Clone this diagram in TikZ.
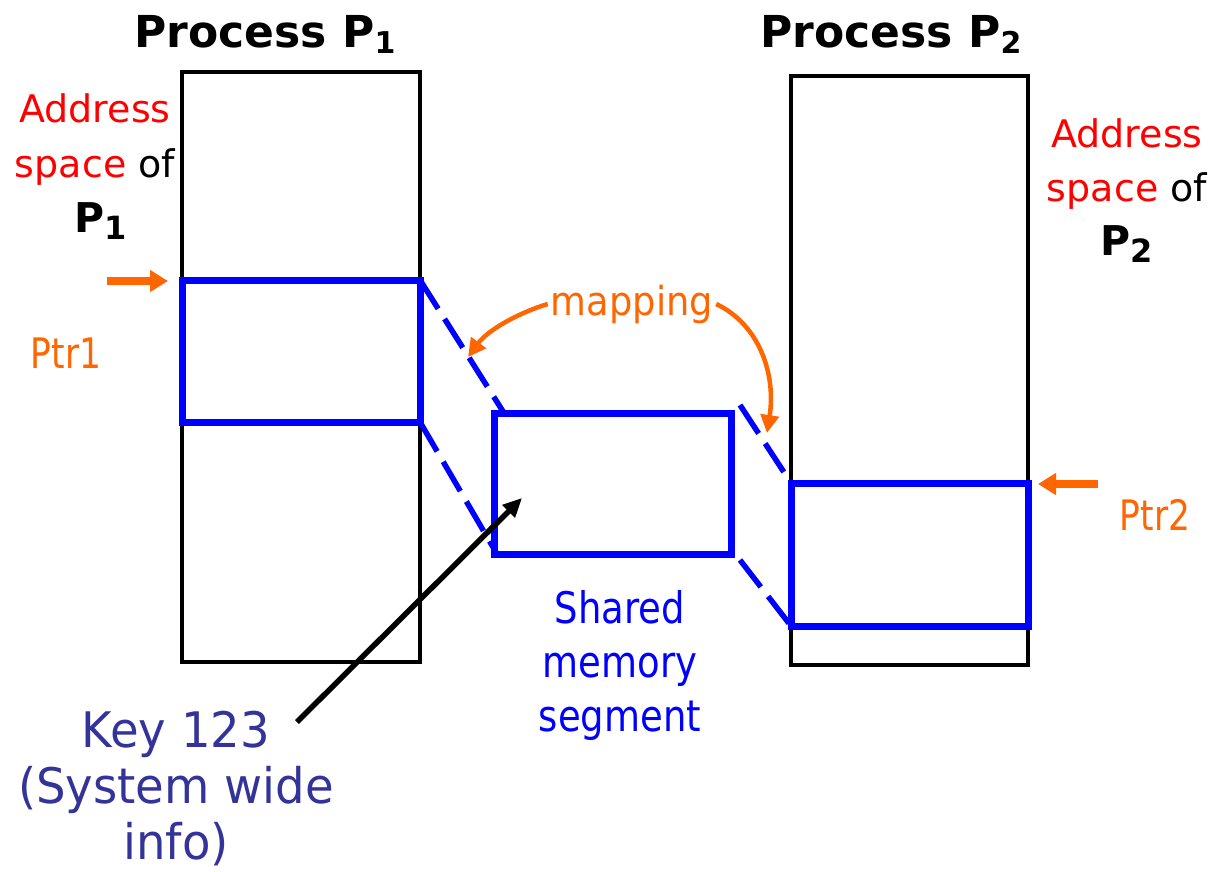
\documentclass[tikz,border=0pt]{standalone}
\usepackage{fontspec}
\setmainfont{DejaVu Sans}
\newfontfamily\fShared{DejaVu Sans}[FakeStretch=0.85]
\newfontfamily\fPtr{DejaVu Sans}[FakeStretch=0.82]
\newfontfamily\fMap{DejaVu Sans}[FakeStretch=0.92]
\newfontfamily\fKey{DejaVu Sans}[FakeStretch=0.95]
\usetikzlibrary{arrows.meta,calc}
\definecolor{orng}{RGB}{255,102,0}
\definecolor{keyblue}{RGB}{51,51,153}
\definecolor{pblue}{RGB}{0,0,255}
\newcommand{\subdig}[3]{\raisebox{-#2pt}{\fontsize{#1}{#1}\selectfont #3}}
\begin{document}
\begin{tikzpicture}[x=1pt,y=-1pt,
  procbox/.style={draw=black,line width=3.5pt,inner sep=0pt,outer sep=0pt},
  segbox/.style={draw=pblue,line width=7pt,inner sep=0pt,outer sep=0pt},
  maplink/.style={draw=pblue,line width=5.5pt,dash pattern=on 34pt off 12pt},
  ptrarrow/.style={draw=orng,line width=8pt,-{Triangle[length=18pt,width=21pt]}},
  maparrow/.style={draw=orng,line width=4.5pt,-{Triangle[length=18pt,width=18pt]}},
  keyarrow/.style={draw=black,line width=5.5pt,-{Triangle[length=19pt,width=17pt]}},
  lbl/.style={inner sep=0pt,outer sep=0pt}]
\useasboundingbox (0,0) rectangle (1213,871);

% process address spaces
\node[procbox,minimum width=238pt,minimum height=590pt] (p1) at (301,367) {};
\node[procbox,minimum width=237pt,minimum height=589pt] (p2) at (909.5,370.5) {};

% shared regions
\node[segbox,minimum width=238pt,minimum height=142pt] (p1b) at (301,351) {};
\node[segbox,minimum width=237pt,minimum height=141pt] (sh) at (612.5,483.5) {};
\node[segbox,minimum width=237pt,minimum height=143pt] (p2b) at (909.5,554.5) {};

% dashed mapping lines
\draw[maplink] (p1b.north east) -- ($(sh.north west)+(10,0)$);
\draw[maplink] (p1b.south east) -- ($(sh.south west)+(3,0)$);
\draw[maplink] ($(sh.north east)+(9,-8)$) -- (p2b.north west);
\draw[maplink] ($(sh.south east)+(9,6)$) -- (p2b.south west);

% titles
\node[lbl,font=\fontsize{44}{44}\selectfont\bfseries,anchor=base] (t1) at (265,47) {Process P\subdig{30}{6}{1}};
\node[lbl,font=\fontsize{44}{44}\selectfont\bfseries,anchor=base] (t2) at (891,47) {Process P\subdig{30}{6}{2}};

% address space labels
\node[lbl,font=\fontsize{38}{55}\selectfont,align=center,anchor=north] (as1) at (95,94)
  {\textcolor{red}{Address}\\\textcolor{red}{space} of\\{\fontsize{41}{55}\selectfont\bfseries\hspace{12pt}P\subdig{32}{7}{1}}};
\node[lbl,font=\fontsize{38}{54}\selectfont,align=center,anchor=north] (as2) at (1127,119)
  {\textcolor{red}{Address}\\\textcolor{red}{space} of\\{\fontsize{41}{54}\selectfont\bfseries P\subdig{32}{7}{2}}};

% pointers
\node[lbl,font=\fPtr\fontsize{42}{42}\selectfont,text=orng,anchor=base] (ptr1) at (66,368) {Ptr1};
\node[lbl,font=\fPtr\fontsize{42}{42}\selectfont,text=orng,anchor=base] (ptr2) at (1155,530) {Ptr2};
\coordinate (ptr1tail) at (107,281);
\coordinate (ptr2tail) at (1098,484);
\draw[ptrarrow] (ptr1tail) -- ($(p1b.north west)+(-14,1)$);
\draw[ptrarrow] (ptr2tail) -- ($(p2b.north east)+(10,1)$);

% mapping label and arrows
\node[font=\fMap\fontsize{40}{40}\selectfont,text=orng,anchor=base,inner sep=3pt] (map) at (632,315) {mapping};
\coordinate (mapL) at (468,357);
\coordinate (mapR) at (767,433);
\draw[maparrow] (map.west) .. controls (518,313) and (488,330) .. (mapL);
\draw[maparrow] (map.east) .. controls (760,325) and (776,375) .. (mapR);

% shared memory label
\node[lbl,font=\fShared\fontsize{43.5}{54}\selectfont,text=pblue,align=center,anchor=north] (shl) at (620,590)
  {Shared\\memory\\segment};

% key label and arrow
\node[lbl,font=\fKey\fontsize{49}{56}\selectfont,text=keyblue,align=center,anchor=north] (key) at (176,711)
  {Key 123\\(System wide\\info)};
\coordinate (keytail) at (297,722);
\coordinate (keytip) at (522,498);
\draw[keyarrow] (keytail) -- (keytip);
\end{tikzpicture}
\end{document}
